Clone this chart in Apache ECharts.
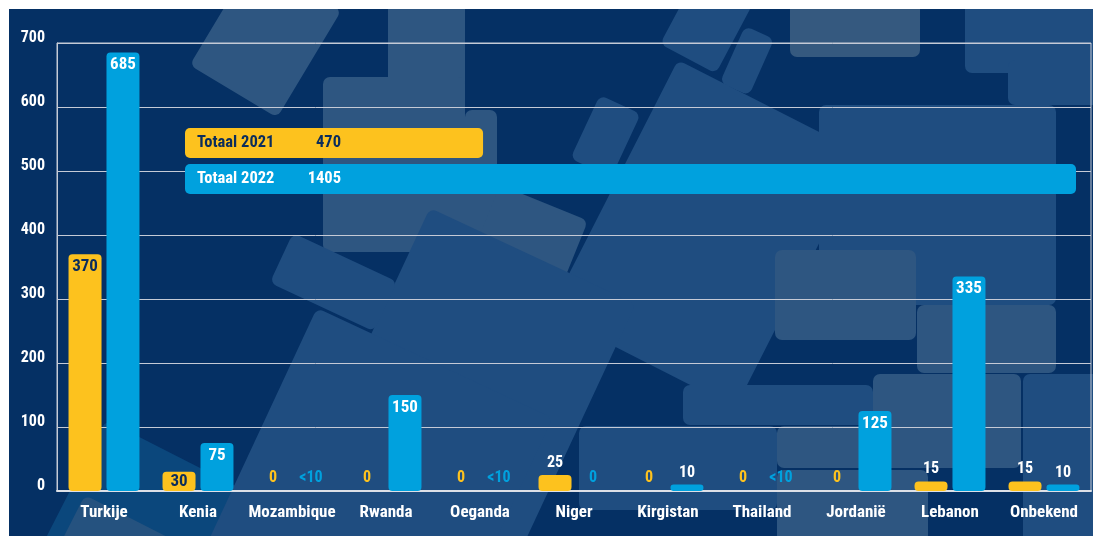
<!DOCTYPE html>
<html>
<head>
<meta charset="utf-8">
<script src="https://cdn.jsdelivr.net/npm/echarts@6/dist/echarts.min.js"></script>
<style>
  html, body { margin: 0; padding: 0; background: #ffffff; }
  #chart { position: absolute; left: 9px; top: 9px; width: 1084px; height: 527px; }
</style>
</head>
<body>
<div id="chart"></div>
<script>
// data
var categories = ['Turkije', 'Kenia', 'Mozambique', 'Rwanda', 'Oeganda', 'Niger', 'Kirgistan', 'Thailand', 'Jordanië', 'Lebanon', 'Onbekend'];
var values2021 = [370, 30, 0, 0, 0, 25, 0, 0, 0, 15, 15];
var values2022 = [685, 75, '<10', 150, '<10', 0, 10, '<10', 125, 335, 10];
var totalNames = ['Totaal 2021', 'Totaal 2022'];
var totalValues = [470, 1405];

var FONT = "'Roboto Condensed', 'Liberation Sans Narrow', 'DejaVu Sans Condensed', Roboto, sans-serif";
var YELLOW = '#fdc21e';
var BLUE = '#00a1de';
var NAVY = '#0b2d5c';
var BG = '#053064';

// offset of the chart div in the page
var OX = 9, OY = 9;

// bar items with their labels
function buildItems(values, color, insideColor) {
  return values.map(function (v) {
    var base = { show: true, fontFamily: FONT, fontWeight: 'bold' };
    if (typeof v === 'string' || v === 0) {
      return { value: 0, label: Object.assign(base, { position: 'top', distance: 5, formatter: String(v), color: color, fontSize: 16 }) };
    }
    if (v >= 50) {
      return { value: v, label: Object.assign(base, { position: 'insideTop', distance: 4, color: insideColor, fontSize: 17 }) };
    }
    if (v >= 30) {
      return { value: v, label: Object.assign(base, { position: 'inside', color: insideColor, fontSize: 17 }) };
    }
    return { value: v, label: Object.assign(base, { position: 'top', distance: 4, color: '#ffffff', fontSize: 16 }) };
  });
}

// background decoration, page coordinates; x,y = top-left corner, rotated clockwise by deg around it
function deco(x, y, w, h, deg, fill) {
  return {
    type: 'rect',
    z: -10,
    silent: true,
    x: x - OX,
    y: y - OY,
    rotation: -deg * Math.PI / 180,
    shape: { x: 0, y: 0, width: w, height: h, r: 7 },
    style: { fill: fill }
  };
}
var LIGHT = '#2e5681';
var MID = '#1f4d80';
var SOFT = '#0b477c';

var shapes = [
  deco(106, 420, 520, 300, 27, SOFT),
  deco(85, 495, 100, 70, 27, '#25527f'),
  deco(254, -42, 102, 125, 31, LIGHT),
  deco(388, 0, 77, 90, 0, LIGHT),
  deco(323, 77, 142, 175, 0, LIGHT),
  deco(465, 110, 32, 140, 0, LIGHT),
  deco(500, 185, 95, 65, 22, LIGHT),
  deco(600, 95, 45, 70, 25, MID),
  deco(700, -31, 63, 85, 28, MID),
  deco(745, 26, 32, 62, 24, MID),
  deco(678, 60, 209, 284, 27, MID),
  deco(430, 208, 227, 400, 25, MID),
  deco(293, 233, 115, 55, 25, MID),
  deco(317, 308, 260, 320, 25, MID),
  deco(790, 0, 130, 57, 0, '#35597f'),
  deco(965, 0, 140, 73, 0, MID),
  deco(1008, 60, 100, 45, 0, MID),
  deco(819, 105, 237, 200, 0, MID),
  deco(775, 250, 141, 90, 0, LIGHT),
  deco(917, 305, 139, 68, 0, LIGHT),
  deco(683, 385, 190, 40, 0, MID),
  deco(579, 426, 198, 84, 0, MID),
  deco(873, 374, 148, 94, 0, LIGHT),
  deco(777, 426, 140, 42, 0, LIGHT),
  deco(777, 470, 151, 80, 0, LIGHT),
  deco(1023, 374, 80, 170, 0, MID)
];

var chart = echarts.init(document.getElementById('chart'));

chart.setOption({
  backgroundColor: BG,
  animation: false,
  textStyle: { fontFamily: FONT },
  graphic: shapes,
  grid: [
    { left: 57 - OX, top: 43 - OY, width: 1034, height: 448, show: true, borderWidth: 1, borderColor: '#c5cad6', backgroundColor: 'transparent' },
    { left: 185 - OX, top: 125 - OY, width: 891, height: 72 }
  ],
  xAxis: [
    {
      type: 'category',
      gridIndex: 0,
      data: categories,
      axisTick: { show: false },
      axisLine: { show: true, lineStyle: { color: '#dde0e7', width: 2 } },
      axisLabel: { interval: 0, color: '#ffffff', fontFamily: FONT, fontWeight: 'bold', fontSize: 17, margin: 13 }
    },
    { type: 'value', gridIndex: 1, min: 0, max: 1405, show: false }
  ],
  yAxis: [
    {
      type: 'value',
      gridIndex: 0,
      min: 0,
      max: 700,
      interval: 100,
      axisLine: { show: true, lineStyle: { color: '#c5cad6', width: 1 } },
      axisTick: { show: false },
      splitLine: { show: true, lineStyle: { color: '#c5cad6', width: 1 } },
      axisLabel: { color: '#ffffff', fontFamily: FONT, fontWeight: 'bold', fontSize: 16, margin: 12, verticalAlign: 'bottom', lineHeight: 10 }
    },
    { type: 'category', gridIndex: 1, inverse: true, data: totalNames, show: false }
  ],
  series: [
    {
      name: '2021',
      type: 'bar',
      xAxisIndex: 0,
      yAxisIndex: 0,
      barWidth: 33,
      barGap: '15%',
      itemStyle: { color: YELLOW, borderRadius: 4 },
      data: buildItems(values2021, YELLOW, NAVY)
    },
    {
      name: '2022',
      type: 'bar',
      xAxisIndex: 0,
      yAxisIndex: 0,
      barWidth: 33,
      barGap: '15%',
      itemStyle: { color: BLUE, borderRadius: 4 },
      data: buildItems(values2022, BLUE, '#ffffff')
    },
    {
      name: 'Totaal',
      type: 'bar',
      xAxisIndex: 1,
      yAxisIndex: 1,
      barWidth: 30,
      data: totalValues.map(function (v, i) {
        var txt = i === 0 ? NAVY : '#ffffff';
        return {
          value: v,
          itemStyle: { color: i === 0 ? YELLOW : BLUE, borderRadius: 5 },
          label: {
            show: true,
            position: 'insideLeft',
            distance: 12,
            formatter: function (p) { return '{a|' + p.name + '}{b|' + p.value + '}'; },
            rich: {
              a: { width: 100, color: txt, fontFamily: FONT, fontWeight: 'bold', fontSize: 16.5 },
              b: { width: 44, align: 'right', color: txt, fontFamily: FONT, fontWeight: 'bold', fontSize: 16.5 }
            }
          }
        };
      })
    }
  ]
});
</script>
</body>
</html>
